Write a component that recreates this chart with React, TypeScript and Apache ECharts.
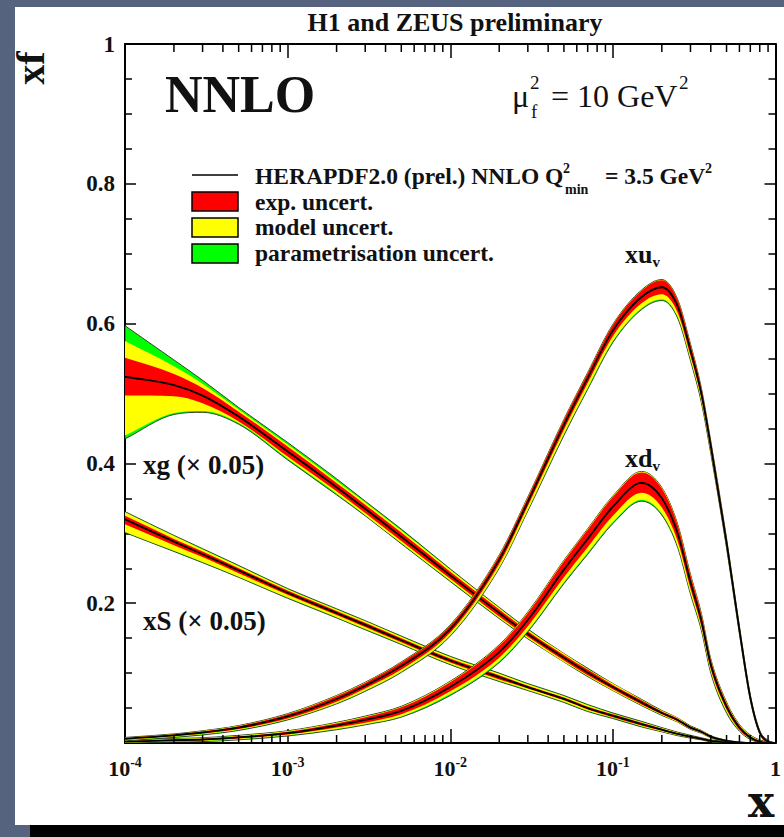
import React, { useEffect, useRef } from "react";
import * as echarts from "echarts";

const FONT = '"Liberation Serif", "Times New Roman", Times, serif';

// x nodes (log scale)
const xGrid = [1e-4, 2e-4, 3e-4, 5e-4, 1e-3, 2e-3, 3e-3, 5e-3, 0.01, 0.02, 0.03, 0.05, 0.07, 0.1, 0.15, 0.2, 0.25, 0.3, 0.35, 0.4, 0.5, 0.6, 0.7, 0.8, 0.9, 1.0];

// xg (x 0.05): central value and cumulative band offsets (up / down)
const xgCentral = [0.524, 0.512, 0.497, 0.467, 0.417, 0.366, 0.335, 0.295, 0.240, 0.186, 0.156, 0.122, 0.101, 0.080, 0.058, 0.043, 0.033, 0.022, 0.016, 0.009, 0.003, 0.001, 0, 0, 0, 0];
const xgExpUp = [0.027, 0.016, 0.011, 0.007, 0.007, 0.006, 0.006, 0.006, 0.005, 0.005, 0.004, 0.004, 0.004, 0.003, 0.003, 0.002, 0.002, 0.0015, 0.001, 0.001, 0.0005, 0, 0, 0, 0, 0];
const xgExpDn = [0.027, 0.016, 0.011, 0.007, 0.007, 0.006, 0.006, 0.006, 0.005, 0.005, 0.004, 0.004, 0.004, 0.003, 0.003, 0.002, 0.002, 0.0015, 0.001, 0.001, 0.0005, 0, 0, 0, 0, 0];
const xgModUp = [0.051, 0.027, 0.017, 0.010, 0.010, 0.009, 0.009, 0.009, 0.008, 0.007, 0.006, 0.006, 0.005, 0.005, 0.004, 0.003, 0.003, 0.002, 0.002, 0.0015, 0.001, 0, 0, 0, 0, 0];
const xgModDn = [0.084, 0.040, 0.022, 0.009, 0.010, 0.009, 0.009, 0.009, 0.008, 0.007, 0.006, 0.006, 0.005, 0.005, 0.004, 0.003, 0.003, 0.002, 0.002, 0.0015, 0.001, 0, 0, 0, 0, 0];
const xgParUp = [0.073, 0.036, 0.022, 0.013, 0.013, 0.012, 0.011, 0.011, 0.009, 0.008, 0.007, 0.006, 0.006, 0.005, 0.0045, 0.0035, 0.003, 0.0025, 0.002, 0.0015, 0.001, 0, 0, 0, 0, 0];
const xgParDn = [0.089, 0.042, 0.024, 0.011, 0.012, 0.011, 0.010, 0.010, 0.009, 0.008, 0.007, 0.006, 0.006, 0.005, 0.0045, 0.0035, 0.003, 0.0025, 0.002, 0.0015, 0.001, 0, 0, 0, 0, 0];

// xS (x 0.05)
const xsCentral = [0.320, 0.288, 0.270, 0.247, 0.215, 0.186, 0.169, 0.147, 0.118, 0.094, 0.080, 0.063, 0.050, 0.039, 0.027, 0.019, 0.013, 0.009, 0.006, 0.003, 0.001, 0, 0, 0, 0, 0];
const xsExpUp = [0.005, 0.004, 0.004, 0.003, 0.003, 0.003, 0.003, 0.003, 0.003, 0.003, 0.002, 0.002, 0.002, 0.002, 0.002, 0.0015, 0.001, 0.001, 0.001, 0.0005, 0, 0, 0, 0, 0, 0];
const xsExpDn = [0.007, 0.005, 0.004, 0.004, 0.003, 0.003, 0.003, 0.003, 0.003, 0.003, 0.002, 0.002, 0.002, 0.002, 0.002, 0.0015, 0.001, 0.001, 0.001, 0.0005, 0, 0, 0, 0, 0, 0];
const xsModUp = [0.010, 0.008, 0.007, 0.006, 0.005, 0.005, 0.005, 0.005, 0.005, 0.005, 0.004, 0.004, 0.004, 0.003, 0.003, 0.0025, 0.002, 0.0015, 0.001, 0.001, 0.0005, 0, 0, 0, 0, 0];
const xsModDn = [0.018, 0.013, 0.011, 0.009, 0.007, 0.006, 0.006, 0.005, 0.005, 0.005, 0.004, 0.004, 0.004, 0.003, 0.003, 0.0025, 0.002, 0.0015, 0.001, 0.001, 0.0005, 0, 0, 0, 0, 0];
const xsParUp = [0.011, 0.009, 0.008, 0.007, 0.006, 0.006, 0.006, 0.006, 0.006, 0.006, 0.005, 0.005, 0.005, 0.004, 0.004, 0.003, 0.0025, 0.002, 0.0015, 0.0015, 0.001, 0, 0, 0, 0, 0];
const xsParDn = [0.019, 0.014, 0.012, 0.010, 0.008, 0.007, 0.007, 0.006, 0.006, 0.006, 0.005, 0.005, 0.005, 0.004, 0.004, 0.003, 0.0025, 0.002, 0.0015, 0.0015, 0.001, 0, 0, 0, 0, 0];

// xu_v
const xuvCentral = [0.006, 0.011, 0.015, 0.022, 0.038, 0.063, 0.082, 0.110, 0.163, 0.262, 0.345, 0.455, 0.522, 0.590, 0.638, 0.652, 0.625, 0.562, 0.500, 0.425, 0.287, 0.162, 0.065, 0.015, 0.002, 0];
const xuvExpUp = [0.001, 0.001, 0.0015, 0.002, 0.003, 0.004, 0.004, 0.005, 0.005, 0.006, 0.006, 0.007, 0.007, 0.008, 0.009, 0.010, 0.009, 0.008, 0.007, 0.006, 0.005, 0.004, 0.003, 0.002, 0.001, 0];
const xuvExpDn = [0.001, 0.001, 0.0015, 0.002, 0.003, 0.004, 0.004, 0.005, 0.005, 0.006, 0.006, 0.007, 0.007, 0.008, 0.009, 0.010, 0.009, 0.008, 0.007, 0.006, 0.005, 0.004, 0.003, 0.002, 0.001, 0];
const xuvModUp = [0.0015, 0.0015, 0.002, 0.0025, 0.0035, 0.0045, 0.0045, 0.0055, 0.0055, 0.0065, 0.0065, 0.0075, 0.0075, 0.0085, 0.0095, 0.0105, 0.0095, 0.0085, 0.0075, 0.0065, 0.0055, 0.0045, 0.0035, 0.0025, 0.0015, 0];
const xuvModDn = [0.002, 0.002, 0.0025, 0.003, 0.004, 0.006, 0.007, 0.008, 0.009, 0.011, 0.012, 0.013, 0.014, 0.015, 0.016, 0.017, 0.015, 0.013, 0.011, 0.009, 0.007, 0.005, 0.004, 0.002, 0.001, 0];
const xuvParUp = [0.002, 0.002, 0.0025, 0.003, 0.004, 0.005, 0.005, 0.006, 0.006, 0.007, 0.007, 0.008, 0.008, 0.009, 0.010, 0.011, 0.010, 0.009, 0.008, 0.007, 0.006, 0.005, 0.004, 0.003, 0.002, 0];
const xuvParDn = [0.003, 0.003, 0.0035, 0.004, 0.005, 0.007, 0.008, 0.009, 0.010, 0.012, 0.013, 0.015, 0.016, 0.017, 0.018, 0.019, 0.017, 0.015, 0.013, 0.011, 0.008, 0.006, 0.004, 0.002, 0.001, 0];

// xd_v
const xdvCentral = [0.002, 0.004, 0.005, 0.008, 0.014, 0.025, 0.033, 0.046, 0.080, 0.130, 0.176, 0.248, 0.292, 0.338, 0.372, 0.350, 0.300, 0.230, 0.175, 0.112, 0.052, 0.022, 0.008, 0.002, 0, 0];
const xdvExpUp = [0.001, 0.001, 0.001, 0.0015, 0.002, 0.003, 0.004, 0.005, 0.007, 0.009, 0.010, 0.012, 0.013, 0.014, 0.015, 0.014, 0.012, 0.010, 0.009, 0.007, 0.005, 0.003, 0.002, 0.001, 0, 0];
const xdvExpDn = [0.001, 0.001, 0.001, 0.0015, 0.002, 0.003, 0.004, 0.005, 0.006, 0.008, 0.009, 0.011, 0.012, 0.013, 0.014, 0.013, 0.011, 0.009, 0.008, 0.006, 0.004, 0.003, 0.002, 0.001, 0, 0];
const xdvModUp = [0.002, 0.002, 0.002, 0.0025, 0.003, 0.004, 0.005, 0.006, 0.008, 0.010, 0.011, 0.013, 0.014, 0.015, 0.016, 0.015, 0.013, 0.011, 0.010, 0.008, 0.006, 0.004, 0.003, 0.002, 0.001, 0];
const xdvModDn = [0.0015, 0.0015, 0.002, 0.0025, 0.003, 0.005, 0.006, 0.008, 0.010, 0.013, 0.015, 0.018, 0.020, 0.022, 0.024, 0.022, 0.018, 0.015, 0.012, 0.010, 0.007, 0.004, 0.002, 0.001, 0, 0];
const xdvParUp = [0.0025, 0.0025, 0.0025, 0.003, 0.0035, 0.0045, 0.0055, 0.0065, 0.0085, 0.0105, 0.0115, 0.0135, 0.0145, 0.0155, 0.0165, 0.0155, 0.0135, 0.0115, 0.0105, 0.0085, 0.0065, 0.0045, 0.0035, 0.0025, 0.0015, 0];
const xdvParDn = [0.0025, 0.0025, 0.003, 0.0035, 0.004, 0.006, 0.007, 0.009, 0.012, 0.015, 0.017, 0.020, 0.022, 0.024, 0.026, 0.024, 0.020, 0.017, 0.014, 0.012, 0.009, 0.005, 0.003, 0.001, 0, 0];

const yTicks = [0, 0.2, 0.4, 0.6, 0.8, 1];
const decades = [1e-4, 1e-3, 1e-2, 1e-1];

const RED = "#ff0000";
const YELLOW = "#ffff00";
const GREEN = "#00ff00";
const EDGE = "#2b3320";

type Pt = number[];
type Seg = [Pt, Pt, Pt, Pt];

// monotone cubic (Fritsch-Carlson) bezier segments through pixel points (x increasing)
function monoSegs(p: Pt[]): Seg[] {
  const n = p.length;
  const s: number[] = [];
  for (let i = 0; i < n - 1; i++) {
    const dx = p[i + 1][0] - p[i][0];
    s.push(dx === 0 ? 0 : (p[i + 1][1] - p[i][1]) / dx);
  }
  const m: number[] = new Array(n).fill(0);
  m[0] = s[0];
  m[n - 1] = s[n - 2];
  for (let i = 1; i < n - 1; i++) m[i] = s[i - 1] * s[i] <= 0 ? 0 : (s[i - 1] + s[i]) / 2;
  for (let i = 0; i < n - 1; i++) {
    if (s[i] === 0) { m[i] = 0; m[i + 1] = 0; continue; }
    const a = m[i] / s[i], b = m[i + 1] / s[i];
    const h = a * a + b * b;
    if (h > 9) { const t = 3 / Math.sqrt(h); m[i] = t * a * s[i]; m[i + 1] = t * b * s[i]; }
  }
  const segs: Seg[] = [];
  for (let i = 0; i < n - 1; i++) {
    const h = (p[i + 1][0] - p[i][0]) / 3;
    segs.push([p[i], [p[i][0] + h, p[i][1] + m[i] * h], [p[i + 1][0] - h, p[i + 1][1] - m[i + 1] * h], p[i + 1]]);
  }
  return segs;
}
const f = (v: number) => v.toFixed(2);
function segPath(segs: Seg[]) {
  return segs.map((g) => `C${f(g[1][0])},${f(g[1][1])} ${f(g[2][0])},${f(g[2][1])} ${f(g[3][0])},${f(g[3][1])}`).join(" ");
}
function linePath(p: Pt[]) {
  return `M${f(p[0][0])},${f(p[0][1])} ` + segPath(monoSegs(p));
}
function bandPath(up: Pt[], lo: Pt[]) {
  const us = monoSegs(up);
  const ls = monoSegs(lo).reverse().map((g) => [g[3], g[2], g[1], g[0]] as Seg);
  const last = lo[lo.length - 1];
  return `M${f(up[0][0])},${f(up[0][1])} ` + segPath(us) + ` L${f(last[0])},${f(last[1])} ` + segPath(ls) + " Z";
}

function pdfSeries(name: string, c: number[], eU: number[], eD: number[], mU: number[], mD: number[], pU: number[], pD: number[]) {
  return {
    type: "custom", name, silent: true, clip: true,
    data: [[xGrid[0], c[0]]],
    encode: { x: 0, y: 1 },
    renderItem: (_params: any, api: any) => {
      const pts = (vals: number[]) => xGrid.map((x, i) => api.coord([x, Math.max(0, vals[i])]));
      const up = (o: number[]) => pts(c.map((v, i) => v + o[i]));
      const dn = (o: number[]) => pts(c.map((v, i) => v - o[i]));
      return {
        type: "group",
        children: [
          { type: "path", shape: { pathData: bandPath(up(pU), dn(pD)) }, style: { fill: GREEN, stroke: EDGE, lineWidth: 0.9 } },
          { type: "path", shape: { pathData: bandPath(up(mU), dn(mD)) }, style: { fill: YELLOW, stroke: null } },
          { type: "path", shape: { pathData: bandPath(up(eU), dn(eD)) }, style: { fill: RED, stroke: null } },
          { type: "path", shape: { pathData: linePath(pts(c)) }, style: { fill: null, stroke: "#000", lineWidth: 1.8 } },
        ],
      };
    },
  };
}

function txt(x: number, y: number, text: string, size: number, opts: any = {}) {
  const align = opts.align || "left";
  return {
    type: "text", x, y, rotation: opts.rotation || 0, z: 10,
    style: {
      text, fontSize: size, fontWeight: opts.weight || "bold",
      fontFamily: opts.family || FONT, fill: "#111",
      align, textAlign: align, verticalAlign: "middle", textVerticalAlign: "middle",
      rich: opts.rich,
    },
  };
}

function buildOption() {
  const minorTicks: number[] = [];
  decades.forEach((d) => { for (let k = 2; k <= 9; k++) minorTicks.push(d * k); });

  const axisLineStyle = { color: "#000", width: 2 };
  const tickStyle = { color: "#000", width: 1.5 };

  const xBase = {
    type: "log", logBase: 10, min: 1e-4, max: 1,
    axisLine: { show: true, onZero: false, lineStyle: axisLineStyle },
    axisTick: { show: true, inside: true, length: 14, lineStyle: tickStyle },
    splitLine: { show: false },
  };
  const yBase = {
    type: "value", min: 0, max: 1, interval: 0.2,
    axisLine: { show: true, onZero: false, lineStyle: axisLineStyle },
    axisTick: { show: true, inside: true, length: 11, lineStyle: tickStyle },
    minorTick: { show: true, splitNumber: 4, length: 7, lineStyle: tickStyle },
    splitLine: { show: false },
  };

  const subRich = {
    m: { fontFamily: FONT, fontSize: 26, fontWeight: "bold", color: "#111", lineHeight: 30 },
    s: { fontFamily: FONT, fontSize: 15, fontWeight: "bold", color: "#111", lineHeight: 15, verticalAlign: "bottom" },
  };

  const legendX = 255;
  const graphic: any[] = [
    txt(455, 22, "H1 and ZEUS preliminary", 26, { align: "center" }),
    txt(30, 68, "xf", 40, { align: "center", rotation: Math.PI / 2 }),
    txt(761, 801, "x", 44, { align: "center", family: '"DejaVu Serif", serif' }),
    txt(165, 94, "NNLO", 52),
    // mu_f^2 = 10 GeV^2
    txt(512, 96, "μ", 32, { weight: "normal" }),
    txt(530, 82, "2", 19, { weight: "normal" }),
    txt(531, 111, "f", 19, { weight: "normal" }),
    txt(551, 96, "= 10 GeV", 32, { weight: "normal" }),
    txt(679, 82, "2", 19, { weight: "normal" }),
    // legend
    { type: "line", shape: { x1: 192, y1: 175, x2: 238, y2: 175 }, style: { stroke: "#000", lineWidth: 1.5 } },
    { type: "rect", shape: { x: 192, y: 192, width: 46, height: 19 }, style: { fill: RED, stroke: "#000", lineWidth: 1.5 } },
    { type: "rect", shape: { x: 192, y: 218, width: 46, height: 19 }, style: { fill: YELLOW, stroke: "#000", lineWidth: 1.5 } },
    { type: "rect", shape: { x: 192, y: 244, width: 46, height: 19 }, style: { fill: GREEN, stroke: "#000", lineWidth: 1.5 } },
    txt(legendX, 176, "HERAPDF2.0 (prel.) NNLO Q", 23.5),
    txt(563, 168, "2", 14),
    txt(565, 189, "min", 14),
    txt(605, 176, "= 3.5 GeV", 23.5),
    txt(705, 168, "2", 14),
    txt(legendX, 202, "exp. uncert.", 23.5),
    txt(legendX, 227, "model uncert.", 23.5),
    txt(legendX, 253, "parametrisation uncert.", 23.5),
    // curve labels
    txt(143, 465, "xg (× 0.05)", 27),
    txt(143, 621, "xS (× 0.05)", 27),
    txt(625, 254, "{m|xu}{s|v}", 26, { rich: subRich }),
    txt(625, 458, "{m|xd}{s|v}", 26, { rich: subRich }),
  ];

  const series: any[] = [
    pdfSeries("xg", xgCentral, xgExpUp, xgExpDn, xgModUp, xgModDn, xgParUp, xgParDn),
    pdfSeries("xS", xsCentral, xsExpUp, xsExpDn, xsModUp, xsModDn, xsParUp, xsParDn),
    pdfSeries("xdv", xdvCentral, xdvExpUp, xdvExpDn, xdvModUp, xdvModDn, xdvParUp, xdvParDn),
    pdfSeries("xuv", xuvCentral, xuvExpUp, xuvExpDn, xuvModUp, xuvModDn, xuvParUp, xuvParDn),
    {
      type: "custom", silent: true, clip: false, z: 5,
      data: minorTicks.map((v) => [v, 0]),
      encode: { x: 0, y: 1 },
      renderItem: (_params: any, api: any) => {
        const v = api.value(0);
        const b = api.coord([v, 0]);
        const t = api.coord([v, 1]);
        return {
          type: "group",
          children: [
            { type: "line", shape: { x1: b[0], y1: b[1], x2: b[0], y2: b[1] - 8 }, style: { stroke: "#000", lineWidth: 1.5 } },
            { type: "line", shape: { x1: t[0], y1: t[1], x2: t[0], y2: t[1] + 8 }, style: { stroke: "#000", lineWidth: 1.5 } },
          ],
        };
      },
    },
  ];

  return {
    animation: false,
    backgroundColor: "transparent",
    grid: { left: 125, top: 44, width: 655, height: 699, containLabel: false },
    xAxis: [
      {
        ...xBase, position: "bottom",
        axisLabel: {
          show: true, margin: 12,
          formatter: (v: number) => {
            const e = Math.round(Math.log10(v));
            return e === 0 ? "{b|1}" : "{b|10}{s|" + e + "}";
          },
          rich: {
            b: { fontFamily: FONT, fontSize: 22, fontWeight: "bold", color: "#111", lineHeight: 26 },
            s: { fontFamily: FONT, fontSize: 14, fontWeight: "bold", color: "#111", lineHeight: 14, verticalAlign: "top" },
          },
        },
      },
      { ...xBase, position: "top", axisLabel: { show: false } },
    ],
    yAxis: [
      {
        ...yBase, position: "left",
        axisLabel: {
          show: true, margin: 10, fontFamily: FONT, fontSize: 23, fontWeight: "bold", color: "#111",
          formatter: (v: number) => (v === 0 ? "" : v === 1 ? "1" : v.toFixed(1)),
          customValues: yTicks,
        },
      },
      { ...yBase, position: "right", axisLabel: { show: false } },
    ],
    graphic,
    series,
  };
}

export default function App() {
  const ref = useRef<HTMLDivElement>(null);
  useEffect(() => {
    if (!ref.current) return;
    const chart = echarts.init(ref.current, undefined, { renderer: "svg" });
    chart.setOption(buildOption() as any);
    return () => chart.dispose();
  }, []);
  return (
    <div style={{ position: "absolute", left: 0, top: 0, width: 784, height: 837, background: "#55637f", overflow: "hidden" }}>
      <div style={{ position: "absolute", left: 15, top: 7, width: 769, height: 818, background: "#fff" }} />
      <div style={{ position: "absolute", left: 30, top: 825, width: 754, height: 12, background: "#000" }} />
      <div ref={ref} style={{ position: "absolute", left: 0, top: 0, width: 784, height: 837 }} />
    </div>
  );
}
